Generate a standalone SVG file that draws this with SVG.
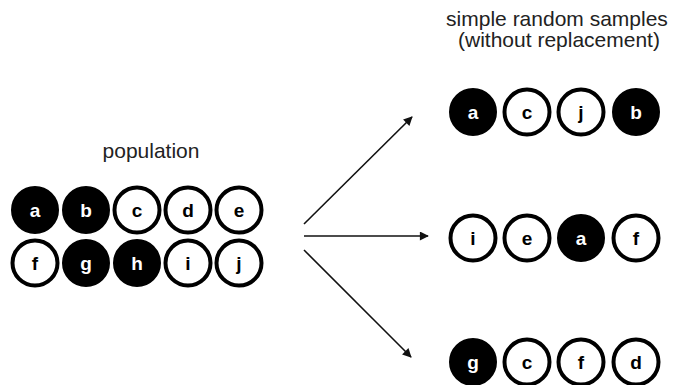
<svg xmlns="http://www.w3.org/2000/svg" width="674" height="385" viewBox="0 0 674 385">
<style>
.lbl{font-family:"Liberation Sans",Arial,sans-serif;font-size:21px;fill:#222;text-anchor:middle}
.on circle{fill:#000;stroke:#000;stroke-width:3}
.off circle{fill:#fff;stroke:#000;stroke-width:4}
.on text{font-family:"Liberation Sans",Arial,sans-serif;font-weight:bold;font-size:19px;fill:#fff;text-anchor:middle}
.off text{font-family:"Liberation Sans",Arial,sans-serif;font-weight:bold;font-size:19px;fill:#000;text-anchor:middle}
.arr{stroke:#111;stroke-width:1.6;fill:none;marker-end:url(#ah)}
</style>
<defs>
<marker id="ah" viewBox="0 0 10 10" refX="9" refY="5" markerWidth="10" markerHeight="9" markerUnits="userSpaceOnUse" orient="auto"><path d="M0,0 L10,5 L0,10 z" fill="#111"/></marker>
</defs>
<rect width="674" height="385" fill="#fff"/>
<text class="lbl" x="151" y="158">population</text>
<text class="lbl" x="557" y="26">simple random samples</text>
<text class="lbl" x="559" y="47">(without replacement)</text>

<g id="population">
<g id="p-a" class="on"><circle cx="35" cy="210" r="22.5"/><text x="35" y="217">a</text></g>
<g id="p-b" class="on"><circle cx="86" cy="210" r="22.5"/><text x="86" y="217">b</text></g>
<g id="p-c" class="off"><circle cx="137" cy="210" r="22.5"/><text x="137" y="217">c</text></g>
<g id="p-d" class="off"><circle cx="188" cy="210" r="22.5"/><text x="188" y="217">d</text></g>
<g id="p-e" class="off"><circle cx="239" cy="210" r="22.5"/><text x="239" y="217">e</text></g>
<g id="p-f" class="off"><circle cx="35" cy="263" r="22.5"/><text x="35" y="270">f</text></g>
<g id="p-g" class="on"><circle cx="86" cy="263" r="22.5"/><text x="86" y="270">g</text></g>
<g id="p-h" class="on"><circle cx="137" cy="263" r="22.5"/><text x="137" y="270">h</text></g>
<g id="p-i" class="off"><circle cx="188" cy="263" r="22.5"/><text x="188" y="270">i</text></g>
<g id="p-j" class="off"><circle cx="239" cy="263" r="22.5"/><text x="239" y="270">j</text></g>
</g>

<g id="sample1">
<g id="s1-a" class="on"><circle cx="473" cy="112" r="22.5"/><text x="473" y="119">a</text></g>
<g id="s1-c" class="off"><circle cx="527" cy="112" r="22.5"/><text x="527" y="119">c</text></g>
<g id="s1-j" class="off"><circle cx="581" cy="112" r="22.5"/><text x="581" y="119">j</text></g>
<g id="s1-b" class="on"><circle cx="636" cy="112" r="22.5"/><text x="636" y="119">b</text></g>
</g>
<g id="sample2">
<g id="s2-i" class="off"><circle cx="473" cy="238" r="22.5"/><text x="473" y="245">i</text></g>
<g id="s2-e" class="off"><circle cx="527" cy="238" r="22.5"/><text x="527" y="245">e</text></g>
<g id="s2-a" class="on"><circle cx="581" cy="238" r="22.5"/><text x="581" y="245">a</text></g>
<g id="s2-f" class="off"><circle cx="636" cy="238" r="22.5"/><text x="636" y="245">f</text></g>
</g>
<g id="sample3">
<g id="s3-g" class="on"><circle cx="473" cy="362" r="22.5"/><text x="473" y="369">g</text></g>
<g id="s3-c" class="off"><circle cx="527" cy="362" r="22.5"/><text x="527" y="369">c</text></g>
<g id="s3-f" class="off"><circle cx="581" cy="362" r="22.5"/><text x="581" y="369">f</text></g>
<g id="s3-d" class="off"><circle cx="636" cy="362" r="22.5"/><text x="636" y="369">d</text></g>
</g>

<g id="connectors">
<line class="arr" x1="304" y1="224" x2="412" y2="117"/>
<line class="arr" x1="304" y1="236" x2="428" y2="236"/>
<line class="arr" x1="304" y1="250" x2="411" y2="357"/>
</g>
</svg>
